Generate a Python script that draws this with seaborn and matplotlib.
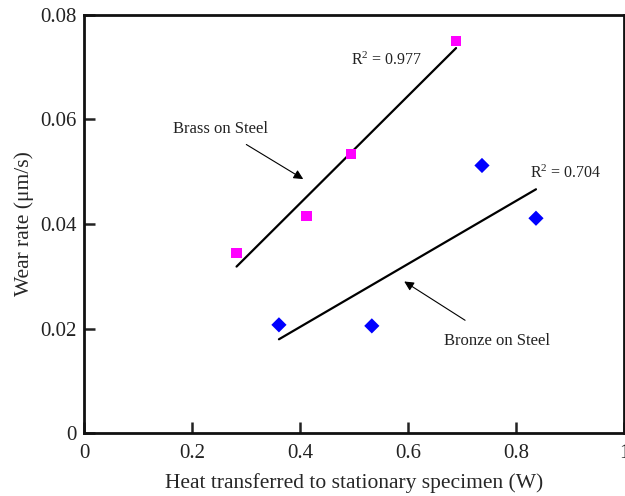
import numpy as np
import pandas as pd
import matplotlib
matplotlib.use('Agg')
import matplotlib.pyplot as plt
import seaborn as sns
from matplotlib.ticker import FuncFormatter

# Brass on steel (magenta squares)
brass_heat = [0.2825, 0.412, 0.495, 0.689]
brass_wear = [0.0345, 0.0415, 0.0534, 0.0750]

# Bronze on steel (blue diamonds)
bronze_heat = [0.361, 0.533, 0.737, 0.837]
bronze_wear = [0.0207, 0.0205, 0.0512, 0.0411]

x_ticks = [0, 0.2, 0.4, 0.6, 0.8, 1.0]
y_ticks = [0, 0.02, 0.04, 0.06, 0.08]

brass = pd.DataFrame({'heat': brass_heat, 'wear': brass_wear})
bronze = pd.DataFrame({'heat': bronze_heat, 'wear': bronze_wear})

sns.set_style('ticks')
plt.rcParams['font.family'] = ['Liberation Serif', 'DejaVu Serif']
plt.rcParams['mathtext.default'] = 'regular'

fig = plt.figure(figsize=(6.25, 4.96), dpi=100)
ax = fig.add_axes([0.1344, 0.127, 0.864, 0.8428])

# fitted lines over the data range
sns.regplot(data=brass, x='heat', y='wear', scatter=False, ci=None, truncate=True,
            color='black', line_kws={'linewidth': 1.6}, ax=ax)
sns.regplot(data=bronze, x='heat', y='wear', scatter=False, ci=None, truncate=True,
            color='black', line_kws={'linewidth': 1.6}, ax=ax)

sns.scatterplot(data=brass, x='heat', y='wear', marker='s', color='#FF00FF',
                s=55, edgecolor='none', ax=ax, zorder=3)
sns.scatterplot(data=bronze, x='heat', y='wear', marker='D', color='#0000FF',
                s=60, edgecolor='none', ax=ax, zorder=3)

ax.set_xlim(0, 1)
ax.set_ylim(0, 0.08)
ax.set_xticks(x_ticks)
ax.set_yticks(y_ticks)
fmt = FuncFormatter(lambda v, p: '%g' % v)
ax.xaxis.set_major_formatter(fmt)
ax.yaxis.set_major_formatter(fmt)
ax.tick_params(direction='in', length=8, width=1.8, labelsize=15, colors='#222222')
ax.tick_params(axis='x', pad=8)
ax.tick_params(axis='y', pad=5)
for sp in ax.spines.values():
    sp.set_visible(True)
    sp.set_linewidth(2)
    sp.set_color('#111111')

ax.set_xlabel('Heat transferred to stationary specimen (W)', fontsize=15.5, labelpad=7)
ax.set_ylabel('Wear rate (\u03bcm/s)', fontsize=15.5, labelpad=5)

# annotations
ax.text(0.5605, 0.0714, 'R$^{2}$ = 0.977', fontsize=11.5, ha='center', va='center', color='#222222')
ax.text(0.893, 0.0496, 'R$^{2}$ = 0.704', fontsize=11.5, ha='center', va='center', color='#222222')
ax.annotate('Brass on Steel', xy=(0.406, 0.0486), xytext=(0.253, 0.0582),
            fontsize=12, ha='center', va='center', color='#222222',
            arrowprops=dict(arrowstyle='-|>', color='black', lw=0.8,
                            mutation_scale=14, shrinkA=6, shrinkB=0))
ax.annotate('Bronze on Steel', xy=(0.593, 0.029), xytext=(0.7645, 0.0177),
            fontsize=12, ha='center', va='center', color='#222222',
            arrowprops=dict(arrowstyle='-|>', color='black', lw=0.8,
                            mutation_scale=14, shrinkA=12, shrinkB=0))

fig.savefig('out.png', dpi=100)
plt.close(fig)
